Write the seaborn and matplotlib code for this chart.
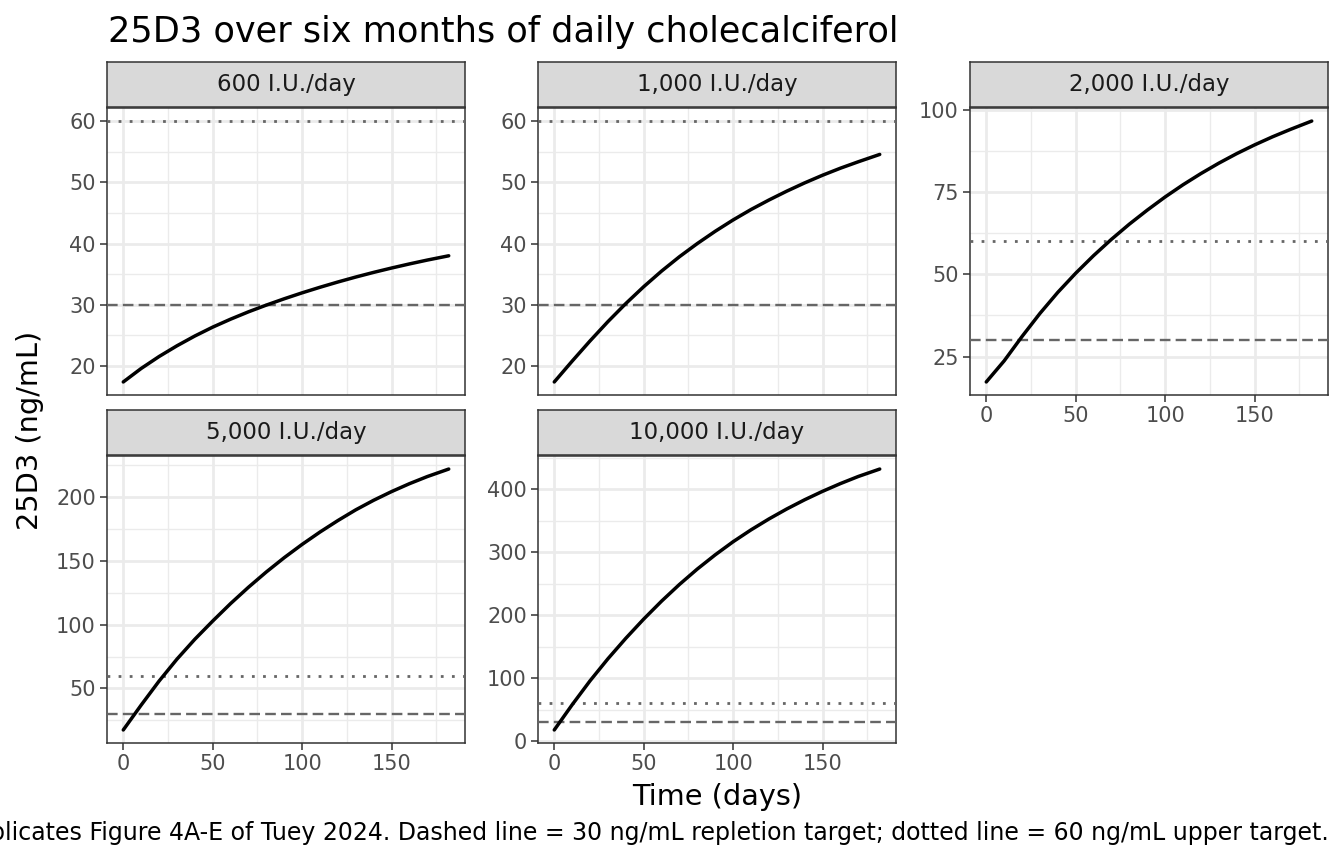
import matplotlib
matplotlib.use("Agg")
import matplotlib.pyplot as plt
from matplotlib.ticker import MultipleLocator
import numpy as np
import pandas as pd
import seaborn as sns

# Valeurs (jours, 25D3 en ng/mL)
days = [0, 10, 20, 30, 40, 50, 60, 70, 80, 90, 100, 110, 120, 130, 140, 150, 160, 170, 182]

iu_600 = [17.4, 19.6, 21.55, 23.3, 24.9, 26.35, 27.65, 28.85, 29.95, 30.98, 31.95,
          32.86, 33.72, 34.53, 35.29, 36.0, 36.67, 37.3, 38.0]
iu_1000 = [17.4, 20.8, 24.1, 27.25, 30.2, 32.95, 35.5, 37.85, 40.0, 42.0, 43.85,
           45.55, 47.1, 48.55, 49.9, 51.15, 52.3, 53.35, 54.55]
iu_2000 = [17.3, 23.7, 31.1, 38.1, 44.5, 50.3, 55.65, 60.6, 65.2, 69.45, 73.45,
           77.15, 80.55, 83.7, 86.6, 89.25, 91.7, 93.95, 96.5]
iu_5000 = [17.4, 36.9, 55.7, 72.9, 88.5, 102.8, 116.5, 129.3, 141.3, 152.5, 162.9,
           172.6, 181.6, 190.0, 197.5, 204.3, 210.5, 216.1, 222.0]
iu_10000 = [17.6, 57.6, 95.6, 130.6, 163.1, 193.6, 222.1, 248.6, 273.1, 295.6, 316.4,
            335.2, 352.5, 368.4, 383.0, 396.4, 408.7, 420.0, 431.8]

doses = ["600 I.U./day", "1,000 I.U./day", "2,000 I.U./day",
         "5,000 I.U./day", "10,000 I.U./day"]
repletion_target = 30
upper_target = 60

df = pd.DataFrame({
    "day": days * len(doses),
    "value": iu_600 + iu_1000 + iu_2000 + iu_5000 + iu_10000,
    "dose": np.repeat(doses, len(days)),
})

sns.set_style("white")
plt.rcParams["font.family"] = ["DejaVu Sans"]

W, H = 1344, 864
fig = plt.figure(figsize=(W / 100, H / 100), dpi=100)
fig.patch.set_facecolor("white")


def px_axes(left, top, width, height):
    return fig.add_axes([left / W, 1 - (top + height) / H, width / W, height / H])


# Position des panneaux (gauche, haut du bandeau) et pas des graduations y
layout = [
    (107, 62, 10, False),
    (538, 62, 10, False),
    (970, 62, 25, True),
    (107, 410, 50, True),
    (538, 410, 100, True),
]
panel_w = 358
strip_h = 45
panel_h = 287

for dose, (left, top, ystep, show_x) in zip(doses, layout):
    # Bandeau gris du facet
    strip = px_axes(left, top, panel_w, strip_h)
    strip.set_facecolor("#D9D9D9")
    strip.set_xticks([])
    strip.set_yticks([])
    for sp in strip.spines.values():
        sp.set_color("#333333")
        sp.set_linewidth(1.1)
    strip.text(0.5, 0.5, dose, ha="center", va="center", fontsize=16.5,
               color="#1A1A1A", transform=strip.transAxes)

    ax = px_axes(left, top + strip_h + 1, panel_w, panel_h)
    sub = df[df["dose"] == dose]
    sns.lineplot(data=sub, x="day", y="value", ax=ax, color="black",
                 linewidth=2.5, zorder=4)
    ax.axhline(repletion_target, color="#666666", linewidth=1.7,
               linestyle=(0, (4.5, 2.2)), zorder=3)
    ax.axhline(upper_target, color="#666666", linewidth=2.0,
               linestyle=(0, (1, 3)), zorder=3)

    # Limites comme ggplot (5 % d'expansion)
    lo = min(sub["value"].min(), repletion_target)
    hi = max(sub["value"].max(), upper_target)
    pad = (hi - lo) * 0.05
    ax.set_ylim(lo - pad, hi + pad)
    xpad = (max(days) - min(days)) * 0.05
    ax.set_xlim(min(days) - xpad, max(days) + xpad)

    ax.xaxis.set_major_locator(MultipleLocator(50))
    ax.xaxis.set_minor_locator(MultipleLocator(25))
    ax.yaxis.set_major_locator(MultipleLocator(ystep))
    ax.yaxis.set_minor_locator(MultipleLocator(ystep / 2))
    ax.grid(which="major", color="#EBEBEB", linewidth=2.0)
    ax.grid(which="minor", color="#EBEBEB", linewidth=1.0)
    ax.set_axisbelow(True)

    ax.set_xlabel("")
    ax.set_ylabel("")
    ax.tick_params(which="minor", length=0)
    ax.tick_params(axis="both", which="major", length=5, width=1.1,
                   color="#333333", labelcolor="#4D4D4D", labelsize=15, pad=3)
    if not show_x:
        ax.tick_params(axis="x", which="major", length=0, labelbottom=False)
    ax.tick_params(axis="y", left=True)
    ax.tick_params(axis="x", bottom=show_x)
    for sp in ax.spines.values():
        sp.set_color("#333333")
        sp.set_linewidth(1.1)

fig.text(108 / W, 1 - 42 / H, "25D3 over six months of daily cholecalciferol",
         ha="left", va="baseline", fontsize=25.3, color="black")
fig.text(717 / W, 1 - 797 / H, "Time (days)", ha="center", va="center",
         fontsize=20.7, color="black")
fig.text(30 / W, 1 - 430 / H, "25D3 (ng/mL)", ha="center", va="center",
         rotation=90, fontsize=20.7, color="black")
# La légende déborde à gauche comme sur la figure d'origine
fig.text(1329 / W, 1 - 833 / H,
         "Replicates Figure 4A-E of Tuey 2024. Dashed line = 30 ng/mL repletion "
         "target; dotted line = 60 ng/mL upper target.",
         ha="right", va="center", fontsize=17.0, color="black")

fig.savefig("out.png", dpi=100, facecolor="white")
